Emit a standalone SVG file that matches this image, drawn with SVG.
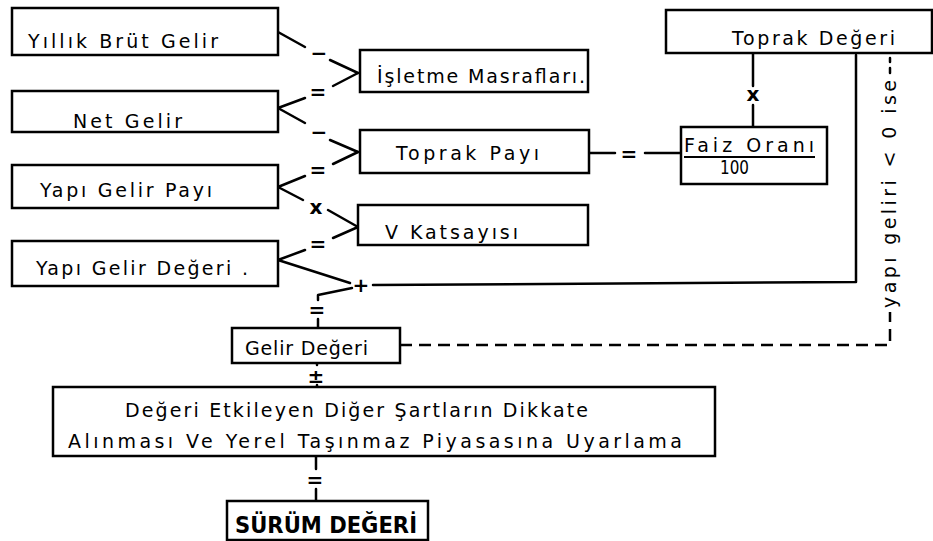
<svg xmlns="http://www.w3.org/2000/svg" width="933" height="541" viewBox="0 0 933 541">
<style>
.box{fill:#fff;stroke:#000;stroke-width:2.5}
.t{font-family:"DejaVu Sans",sans-serif;font-size:19px;fill:#000}
.c{fill:none;stroke:#000;stroke-width:2.5;stroke-linecap:round;stroke-linejoin:round}
.d{fill:none;stroke:#000;stroke-width:2.5;stroke-dasharray:12 7}
.op{font-family:"DejaVu Sans",sans-serif;font-weight:bold;font-size:20px;text-anchor:middle;fill:#000}
</style>
<rect width="933" height="541" fill="#fff"/>
<g id="connectors">
  <polyline class="c" points="278,32 305,47"/>
  <text class="op" x="319" y="60">−</text>
  <polyline class="c" points="330,60 358,73"/>
  <polyline class="c" points="358,73 333,86"/>
  <text class="op" x="318" y="99">=</text>
  <polyline class="c" points="305,98 278,108"/>
  <polyline class="c" points="278,108 305,123"/>
  <text class="op" x="319" y="139">−</text>
  <polyline class="c" points="330,140 358,152"/>
  <polyline class="c" points="358,152 333,164"/>
  <text class="op" x="318" y="177">=</text>
  <polyline class="c" points="305,176 278,187"/>
  <polyline class="c" points="278,187 303,200"/>
  <text class="op" x="316" y="214">x</text>
  <polyline class="c" points="328,210 358,227"/>
  <polyline class="c" points="358,227 333,238"/>
  <text class="op" x="318" y="251">=</text>
  <polyline class="c" points="305,250 278,260"/>
  <polyline class="c" points="278,260 350,283"/>
  <text class="op" x="361" y="292">+</text>
  <polyline class="c" points="373,285 856,282 856,55"/>
  <polyline class="c" points="352,288 318,295 318,300"/>
  <text class="op" x="317" y="317">=</text>
  <polyline class="c" points="318,319 318,328"/>
  <polyline class="c" points="590,153 615,153"/>
  <text class="op" x="629" y="161">=</text>
  <polyline class="c" points="645,153 681,153"/>
  <polyline class="c" points="753,54 753,86"/>
  <text class="op" x="753" y="101">x</text>
  <polyline class="c" points="753,105 753,127"/>
  <polyline class="d" points="400,345 890,345 890,312"/>
  <polyline class="c" points="890,58 890,62"/>
  <polyline class="c" points="890,68 890,73"/>
  <text class="t" transform="translate(896,308) rotate(-90)" x="0" y="0" textLength="228" lengthAdjust="spacing">yapı geliri &lt; 0 ise</text>
  <polyline class="c" points="317,363 317,365"/>
  <text class="op" x="316" y="383">±</text>
  <polyline class="c" points="317,385 317,387"/>
  <polyline class="c" points="316,457 316,469"/>
  <text class="op" x="315" y="487">=</text>
  <polyline class="c" points="316,489 316,501"/>
</g>
<g id="yillik">
  <rect class="box" x="12" y="8" width="266" height="47"/>
  <text class="t" x="28" y="48" textLength="190" lengthAdjust="spacing">Yıllık Brüt Gelir</text>
</g>
<g id="net">
  <rect class="box" x="12" y="91" width="266" height="41"/>
  <text class="t" x="73" y="128" textLength="109" lengthAdjust="spacing">Net Gelir</text>
</g>
<g id="yapipayi">
  <rect class="box" x="12" y="165" width="266" height="43"/>
  <text class="t" x="40" y="197" textLength="172" lengthAdjust="spacing">Yapı Gelir Payı</text>
</g>
<g id="yapidegeri">
  <rect class="box" x="12" y="241" width="266" height="45"/>
  <text class="t" x="36" y="275" textLength="212" lengthAdjust="spacing">Yapı Gelir Değeri .</text>
</g>
<g id="isletme">
  <rect class="box" x="360" y="50" width="228" height="42"/>
  <text class="t" x="377" y="83" textLength="208" lengthAdjust="spacing">İşletme Masrafları.</text>
</g>
<g id="topraypayi">
  <rect class="box" x="360" y="130" width="229" height="43"/>
  <text class="t" x="396" y="160" textLength="143" lengthAdjust="spacing">Toprak Payı</text>
</g>
<g id="vkatsayisi">
  <rect class="box" x="358" y="205" width="230" height="40"/>
  <text class="t" x="385" y="239" textLength="133" lengthAdjust="spacing">V Katsayısı</text>
</g>
<g id="toprakdegeri">
  <rect class="box" x="666" y="10" width="266" height="43"/>
  <text class="t" x="732" y="45" textLength="163" lengthAdjust="spacing">Toprak Değeri</text>
</g>
<g id="faiz">
  <rect class="box" x="681" y="127" width="146" height="57"/>
  <text class="t" x="684" y="152" textLength="130" lengthAdjust="spacing">Faiz Oranı</text>
  <line x1="684" y1="157" x2="815" y2="157" stroke="#000" stroke-width="2"/>
  <text class="t" x="720" y="174" textLength="29" lengthAdjust="spacingAndGlyphs">100</text>
</g>
<g id="gelirdegeri">
  <rect class="box" x="232" y="328" width="168" height="35"/>
  <text class="t" x="245" y="355" textLength="123" lengthAdjust="spacing">Gelir Değeri</text>
</g>
<g id="diger">
  <rect class="box" x="53" y="387" width="662" height="69"/>
  <text class="t" x="125" y="417" textLength="463" lengthAdjust="spacing">Değeri Etkileyen Diğer Şartların Dikkate</text>
  <text class="t" x="68" y="448" textLength="614" lengthAdjust="spacing">Alınması Ve Yerel Taşınmaz Piyasasına Uyarlama</text>
</g>
<g id="surum">
  <rect class="box" x="227" y="501" width="201" height="39"/>
  <text class="t" x="235" y="533" textLength="182" lengthAdjust="spacingAndGlyphs" style="font-weight:bold;font-size:23px">SÜRÜM DEĞERİ</text>
</g>
</svg>
